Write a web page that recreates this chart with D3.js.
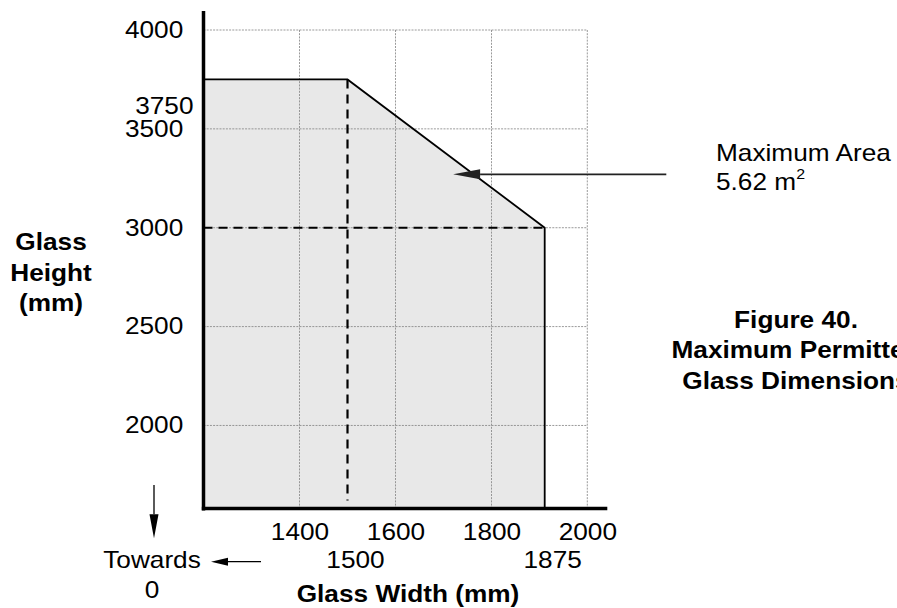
<!DOCTYPE html>
<html>
<head>
<meta charset="utf-8">
<script src="https://cdn.jsdelivr.net/npm/d3@7"></script>
<style>
  body { margin: 0; background: #fff; }
  svg { display: block; }
</style>
</head>
<body>
<svg id="chart" width="897" height="608"></svg>
<script>
// tick labels
const xTicks = [1400, 1600, 1800, 2000];
const xMarks = [1500, 1875];
const yTicks = [2000, 2500, 3000, 3500, 4000];
const yMarks = [3750];

// permitted envelope (glass width, glass height) in mm
const envWidth = [1200, 1500, 1875, 1875];
const envHeight = [3750, 3750, 3000, 1580];

const maxArea = '5.62';
const arrowTip = [1720, 3270];

const FONT = '"Liberation Sans", Arial, Helvetica, sans-serif';
const STRETCH = 1.14; // source figure text is wider than plain Arial
const fontSize = 23;

const svg = d3.select('#chart');

// figure is drawn "not to scale" so the width axis is piecewise
const x = d3.scaleLinear()
    .domain([1200, 1800, 1875, 2000])
    .range([203.5, 491.5, 544.7, 587.3]);
const y = d3.scaleLinear()
    .domain([1580, 4000])
    .range([508.5, 30]);

const xMin = x.domain()[0], xMax = 2000;
const yMin = y.domain()[0], yMax = 4000;

function label(px, py, txt, anchor, bold) {
    return svg.append('text')
        .attr('transform', `translate(${px},${py}) scale(${STRETCH},1)`)
        .attr('text-anchor', anchor || 'start')
        .style('font-family', FONT)
        .style('font-size', fontSize + 'px')
        .style('font-weight', bold ? 'bold' : 'normal')
        .attr('fill', '#000')
        .text(txt);
}

// grid
const grid = svg.append('g').attr('class', 'grid')
    .attr('stroke', '#808080').attr('stroke-width', 0.8)
    .attr('stroke-dasharray', '2,1.2');
grid.selectAll('line.gx').data(xTicks).join('line').attr('class', 'gx')
    .attr('x1', d => x(d)).attr('x2', d => x(d))
    .attr('y1', y(yMax)).attr('y2', y(yMin));
grid.selectAll('line.gy').data(yTicks).join('line').attr('class', 'gy')
    .attr('x1', x(xMin)).attr('x2', x(xMax))
    .attr('y1', d => y(d)).attr('y2', d => y(d));

// envelope fill
const pts = envWidth.map((w, i) => [w, envHeight[i]]);
const fillPts = [[xMin, yMin], ...pts];
svg.append('path')
    .datum(fillPts)
    .attr('d', d3.line().x(d => x(d[0])).y(d => y(d[1])).curve(d3.curveLinearClosed))
    .attr('fill', '#e8e8e8')
    .attr('stroke', 'none');

// grid again on top of fill (it shows through in the figure)
svg.node().appendChild(grid.node());

// dashed reference lines
svg.append('line')
    .attr('x1', x(1500)).attr('x2', x(1500))
    .attr('y1', y(3750)).attr('y2', y(yMin) - 8)
    .attr('stroke', '#000').attr('stroke-width', 2.2)
    .attr('stroke-dasharray', '9,6');
svg.append('line')
    .attr('x1', x(xMin)).attr('x2', x(1875))
    .attr('y1', y(3000)).attr('y2', y(3000))
    .attr('stroke', '#000').attr('stroke-width', 2.2)
    .attr('stroke-dasharray', '9,6');

// envelope outline
svg.append('path')
    .datum(pts)
    .attr('d', d3.line().x(d => x(d[0])).y(d => y(d[1])))
    .attr('fill', 'none')
    .attr('stroke', '#000')
    .attr('stroke-width', 1.8);

// axes lines
svg.append('line')
    .attr('x1', x(xMin)).attr('x2', x(xMin))
    .attr('y1', 11).attr('y2', y(yMin) + 2)
    .attr('stroke', '#000').attr('stroke-width', 3.5);
svg.append('line')
    .attr('x1', x(xMin) - 1.7).attr('x2', x(xMax) + 20)
    .attr('y1', y(yMin)).attr('y2', y(yMin))
    .attr('stroke', '#000').attr('stroke-width', 3.5);

// tick labels through d3 axes
function styleAxis(g) {
    g.select('.domain').remove();
    g.selectAll('text')
        .style('font-family', FONT)
        .style('font-size', fontSize + 'px')
        .attr('fill', '#000')
        .attr('transform', `scale(${STRETCH},1)`);
}

svg.append('g')
    .attr('transform', `translate(0,${y(yMin)})`)
    .call(d3.axisBottom(x).tickValues(xTicks).tickSize(0).tickPadding(15).tickFormat(d3.format('d')))
    .call(styleAxis);

svg.append('g')
    .attr('transform', `translate(0,${y(yMin)})`)
    .call(d3.axisBottom(x).tickValues(xMarks).tickSize(0).tickPadding(43.5).tickFormat(d3.format('d')))
    .call(styleAxis)
    .selectAll('text').attr('x', 7.5 / STRETCH);

svg.append('g')
    .attr('transform', `translate(${x(xMin)},0)`)
    .call(d3.axisLeft(y).tickValues(yTicks).tickSize(0).tickPadding(17.8).tickFormat(d3.format('d')))
    .call(styleAxis);

yMarks.forEach(v => {
    label(x(xMin) - 10, y(v) + 35, String(v), 'end');
});

// axis titles
label(51, 250, 'Glass', 'middle', true);
label(51, 280.5, 'Height', 'middle', true);
label(51, 311, '(mm)', 'middle', true);
label(408, 601.5, 'Glass Width (mm)', 'middle', true);

// towards-0 note
label(152, 568.3, 'Towards', 'middle');
label(152, 598.3, '0', 'middle');

function arrow(x1, y1, x2, y2, headLen, headHalf, width, color) {
    const ang = Math.atan2(y2 - y1, x2 - x1);
    const bx = x2 - headLen * Math.cos(ang), by = y2 - headLen * Math.sin(ang);
    svg.append('line')
        .attr('x1', x1).attr('y1', y1).attr('x2', bx).attr('y2', by)
        .attr('stroke', color).attr('stroke-width', width);
    const nx = -Math.sin(ang) * headHalf, ny = Math.cos(ang) * headHalf;
    svg.append('path')
        .attr('d', `M${x2},${y2}L${bx + nx},${by + ny}L${bx - nx},${by - ny}Z`)
        .attr('fill', color);
}

arrow(154, 485, 154, 538.3, 24, 4.5, 1.3, '#000');
arrow(261, 561.7, 211, 561.7, 17, 4, 1.3, '#000');

// maximum area annotation
arrow(x(xMax) + 79, y(arrowTip[1]), x(arrowTip[0]), y(arrowTip[1]), 27, 5, 1.6, '#222');
label(716, 161, 'Maximum Area');
const areaText = label(716, 190, maxArea + ' m');
areaText.append('tspan')
    .attr('dy', -11)
    .style('font-size', '14px')
    .text('2');

// caption
label(796, 327.5, 'Figure 40.', 'middle', true);
label(796, 358.3, 'Maximum Permitted', 'middle', true);
label(796, 389.3, 'Glass Dimensions', 'middle', true);
</script>
</body>
</html>
